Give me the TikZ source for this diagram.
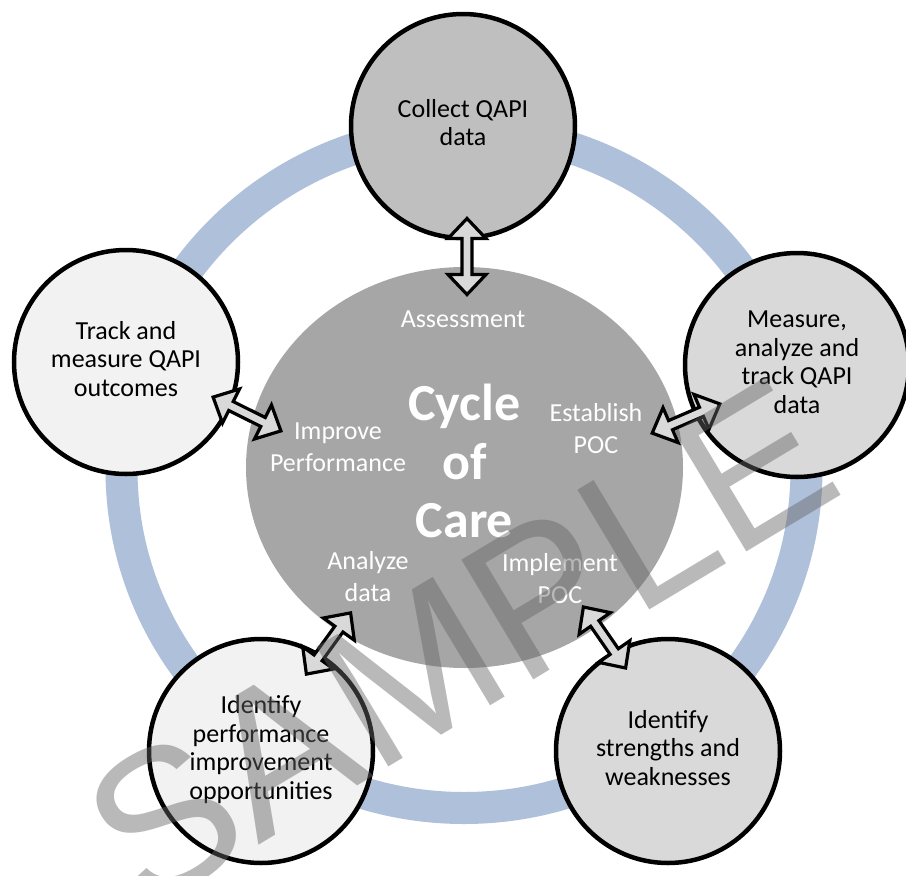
\documentclass[tikz,border=0pt]{standalone}
\usepackage{fontspec}
\setmainfont{Carlito}
\newfontfamily\wmfont{Liberation Sans}
\usetikzlibrary{shapes.geometric,calc}
\definecolor{ringblue}{RGB}{175,192,219}
\definecolor{hubgray}{RGB}{166,166,166}
\definecolor{topgray}{RGB}{191,191,191}
\definecolor{midgray}{RGB}{217,217,217}
\definecolor{palegray}{RGB}{242,242,242}
\definecolor{arrowgray}{RGB}{217,217,217}
\definecolor{wmgray}{RGB}{100,100,100}
\newcommand\cycHL{20pt}
\newcommand\cycHW{19pt}
\newcommand\cycSW{5pt}
\begin{document}
\begin{tikzpicture}[x=1pt,y=-1pt,
  stage/.style={circle, draw=black, line width=4.5pt, minimum size=224pt, inner sep=0pt,
    align=center, font=\fontsize{26}{28.5}\selectfont},
  hublabel/.style={text=white, align=center, inner sep=0pt, font=\fontsize{26}{31.7}\selectfont},
  blockarrow/.style={draw=black, line width=3.2pt, fill=arrowgray, line join=miter, miter limit=10,
    to path={
      (\tikztostart)
      -- ($(\tikztostart)!\cycHL!(\tikztotarget)!\cycHW!90:(\tikztotarget)$)
      -- ($(\tikztostart)!\cycHL!(\tikztotarget)!\cycSW!90:(\tikztotarget)$)
      -- ($(\tikztotarget)!\cycHL!(\tikztostart)!\cycSW!-90:(\tikztostart)$)
      -- ($(\tikztotarget)!\cycHL!(\tikztostart)!\cycHW!-90:(\tikztostart)$)
      -- (\tikztotarget)
      -- ($(\tikztotarget)!\cycHL!(\tikztostart)!\cycHW!90:(\tikztostart)$)
      -- ($(\tikztotarget)!\cycHL!(\tikztostart)!\cycSW!90:(\tikztostart)$)
      -- ($(\tikztostart)!\cycHL!(\tikztotarget)!\cycSW!-90:(\tikztotarget)$)
      -- ($(\tikztostart)!\cycHL!(\tikztotarget)!\cycHW!-90:(\tikztotarget)$)
      -- cycle}}
]
\useasboundingbox (0,0) rectangle (906,876);
\fill[white] (0,0) rectangle (906,876);

% ring
\draw[ringblue, line width=32pt] (464,469.5) ellipse [x radius=342.5pt, y radius=338.5pt];

% hub
\node[ellipse, fill=hubgray, minimum width=437pt, minimum height=401pt, inner sep=0pt,
  text=white, align=center, font=\bfseries\fontsize{52}{58.5}\selectfont]
  (hub) at (464.5,467.5) {\strut Cycle\\\strut of\\\strut Care};

% stages
\node[stage, fill=topgray] (collect) at (463,126) {\strut Collect QAPI\\\strut data};
\node[stage, fill=midgray] (measure) at (797,365) {\strut Measure,\\\strut analyze and\\\strut track QAPI\\\strut data};
\node[stage, fill=midgray] (strengths) at (668,751) {\strut Identify\\\strut strengths and\\\strut weaknesses};
\node[stage, fill=palegray] (opps) at (261,751) {\strut Identify\\\strut performance\\\strut improvement\\\strut opportunities};
\node[stage, fill=palegray] (track) at (126,362) {\strut Track and\\\strut measure QAPI\\\strut outcomes};

% arrow ends
\coordinate (h1) at (467,294.5);   \coordinate (t1) at (467,218.5);
\coordinate (h2) at (652.2,433.1); \coordinate (t2) at (719.8,403.9);
\coordinate (h3) at (583.4,607);   \coordinate (t3) at (625.6,668);
\coordinate (h4) at (350.6,612.9); \coordinate (t4) at (306.4,674.1);
\coordinate (h5) at (280.9,430.9); \coordinate (t5) at (213.1,397.1);

\draw[blockarrow] (h1) to (t1);
\draw[blockarrow] (h2) to (t2);
\draw[blockarrow] (h3) to (t3);
\draw[blockarrow] (h4) to (t4);
\draw[blockarrow] (h5) to (t5);

% hub labels
\node[hublabel] (assess) at (463,320.7) {\strut Assessment};
\node[hublabel] (improve) at (338,449.5) {\strut Improve\\\strut Performance};
\node[hublabel] (establish) at (596,431.5) {\strut Establish\\\strut POC};
\node[hublabel] (analyze) at (368,579.5) {\strut Analyze\\\strut data};
\node[hublabel] (implement) at (560,581.5) {\strut Implement\\\strut POC};

% watermark
\node[font=\wmfont\fontsize{203}{203}\selectfont, text=wmgray, text opacity=0.45,
  rotate=31, anchor=base west, inner sep=0pt] (wm) at (142,915) {SAMPLE};
\end{tikzpicture}
\end{document}
